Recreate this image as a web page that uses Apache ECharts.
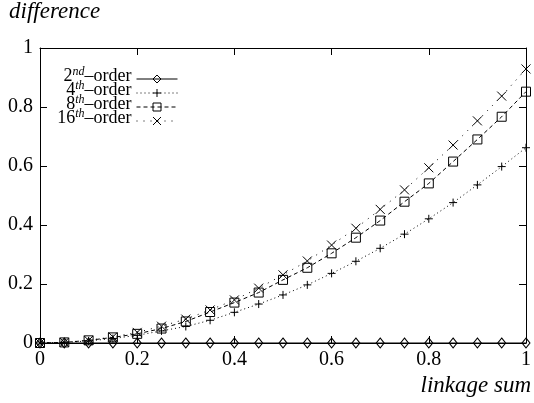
<!DOCTYPE html>
<html>
<head>
<meta charset="utf-8">
<script src="https://cdn.jsdelivr.net/npm/echarts@6/dist/echarts.min.js"></script>
<style>
  html, body { margin: 0; padding: 0; background: #fff; }
  #chart { width: 534px; height: 403px; }
</style>
</head>
<body>
<div id="chart"></div>
<script>
// linkage sum (x)
const xs = [0, 0.05, 0.1, 0.15, 0.2, 0.25, 0.3, 0.35, 0.4, 0.45, 0.5,
  0.55, 0.6, 0.65, 0.7, 0.75, 0.8, 0.85, 0.9, 0.95, 1];
// difference per order
const order2 = [0, 0, 0, 0, 0, 0, 0, 0, 0, 0, 0, 0, 0, 0, 0, 0, 0, 0, 0, 0, 0];
const order4 = [0, 0.002, 0.007, 0.015, 0.026, 0.041, 0.056, 0.077, 0.104, 0.132, 0.163,
  0.197, 0.236, 0.277, 0.321, 0.369, 0.421, 0.476, 0.536, 0.598, 0.662];
const order8 = [0, 0.002, 0.009, 0.019, 0.031, 0.049, 0.073, 0.105, 0.137, 0.171, 0.214,
  0.255, 0.304, 0.357, 0.415, 0.479, 0.541, 0.615, 0.690, 0.767, 0.852];
const order16 = [0, 0.002, 0.009, 0.021, 0.036, 0.057, 0.081, 0.112, 0.146, 0.186, 0.231,
  0.278, 0.332, 0.389, 0.453, 0.519, 0.594, 0.671, 0.753, 0.837, 0.929];
const legendNames = ["2nd-order", "4th-order", "8th-order", "16th-order"];

const font = "'Liberation Serif', 'Times New Roman', Times, serif";
const plus = "path://M5,0L5,10M0,5L10,5";
const cross = "path://M0,0L10,10M0,10L10,0";

const chart = echarts.init(document.getElementById("chart"));

const pairs = (ys) => xs.map((x, i) => [x, ys[i]]);

const mkSeries = (name, ys, symbol, size, dash) => ({
  name: name,
  type: "line",
  data: pairs(ys),
  symbol: symbol,
  symbolSize: size,
  showSymbol: true,
  clip: false,
  animation: false,
  lineStyle: { color: "#000", width: 1, type: dash },
  itemStyle: { color: "transparent", borderColor: "#000", borderWidth: 1 },
});

const axisBase = {
  type: "value",
  min: 0,
  max: 1,
  interval: 0.2,
  splitLine: { show: false },
  axisLine: { show: true, onZero: false, lineStyle: { color: "#000", width: 1 } },
  axisTick: { show: true, inside: true, length: 7, lineStyle: { color: "#000" } },
};

const option = {
  backgroundColor: "#fff",
  animation: false,
  grid: { left: 40, right: 8, top: 48, bottom: 60 },
  xAxis: [
    Object.assign({}, axisBase, {
      position: "bottom",
      axisLabel: { color: "#000", fontFamily: font, fontSize: 20, margin: 7 },
    }),
    Object.assign({}, axisBase, { position: "top", axisLabel: { show: false } }),
  ],
  yAxis: [
    Object.assign({}, axisBase, {
      position: "left",
      axisLabel: { color: "#000", fontFamily: font, fontSize: 20, margin: 7 },
    }),
    Object.assign({}, axisBase, { position: "right", axisLabel: { show: false } }),
  ],
  legend: {
    data: legendNames,
    orient: "vertical",
    align: "right",
    right: 351,
    top: 61,
    padding: 5,
    itemWidth: 41,
    itemHeight: 10,
    itemGap: -5,
    itemStyle: { color: "transparent", borderColor: "#000", borderWidth: 1 },
    lineStyle: { width: 1, color: "#000" },
    formatter: (name) => {
      const m = name.match(/^(\d+)(nd|th)-order$/);
      return "{b|" + m[1] + "}{s|" + m[2] + "}{b|–order}";
    },
    textStyle: {
      color: "#000",
      fontFamily: font,
      rich: {
        b: { fontFamily: font, fontSize: 18, lineHeight: 12, color: "#000", verticalAlign: "bottom" },
        s: { fontFamily: font, fontSize: 12, fontStyle: "italic", lineHeight: 12, color: "#000",
          verticalAlign: "bottom", padding: [0, 0, 7, 0] },
      },
    },
  },
  graphic: [
    {
      type: "text",
      left: 9,
      top: 0,
      style: { text: "difference", font: "italic 23px " + font, fill: "#000" },
    },
    {
      type: "text",
      right: 3,
      top: 374,
      style: { text: "linkage sum", font: "italic 23px " + font, fill: "#000" },
    },
  ],
  series: [
    mkSeries("2nd-order", order2, "diamond", [8, 10], "solid"),
    mkSeries("4th-order", order4, plus, 8, [1, 3]),
    mkSeries("8th-order", order8, "rect", 9, [4, 3]),
    mkSeries("16th-order", order16, cross, 9, [1, 6]),
  ],
};

chart.setOption(option);
</script>
</body>
</html>
